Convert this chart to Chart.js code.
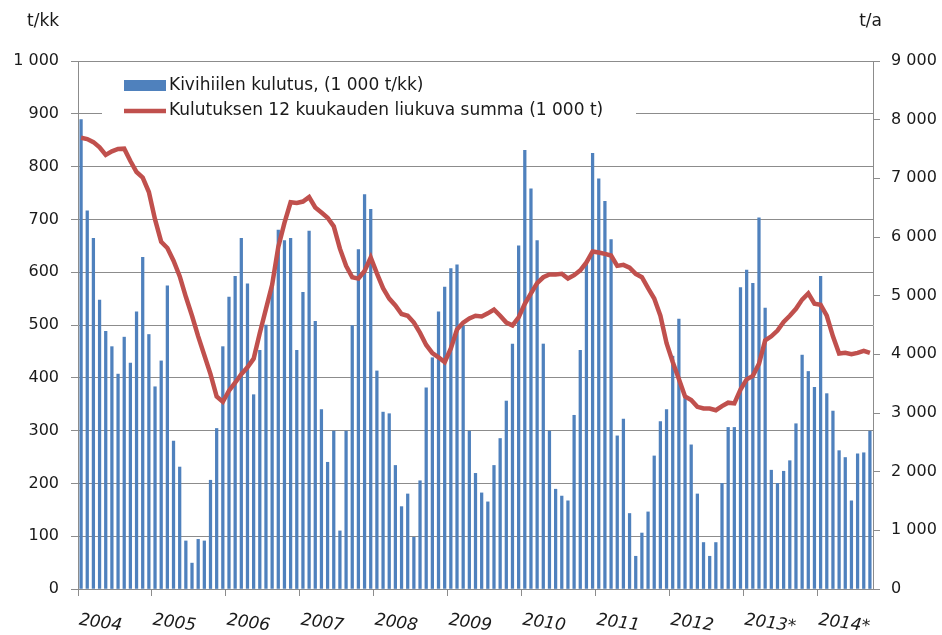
<!DOCTYPE html>
<html>
<head>
<meta charset="utf-8">
<script src="https://cdn.jsdelivr.net/npm/chart.js@4"></script>
<style>
  html, body { margin: 0; padding: 0; background: #fff; }
  #wrap { width: 942px; height: 635px; }
</style>
</head>
<body>
<div id="wrap"><canvas id="coal-chart" width="942" height="635"></canvas></div>
<script>
(function () {
    'use strict';

    /* ── Data: monthly coal consumption Jan 2004 – Sep 2014 ── */
    var yearLabels = ['2004', '2005', '2006', '2007', '2008', '2009', '2010', '2011', '2012', '2013*', '2014*'];

    // Kivihiilen kulutus (1 000 t/kk), one value per month
    var consumption = [
        889, 716, 664, 547, 488, 459, 407, 477, 428, 525, 628, 482,   // 2004
        383, 432, 574, 280, 231, 91, 49, 94, 91, 206, 304, 459,       // 2005
        553, 592, 664, 578, 368, 452, 500, 578, 680, 660, 664, 452,   // 2006
        562, 678, 507, 340, 240, 299, 110, 299, 499, 643, 747, 719,   // 2007
        413, 335, 332, 234, 156, 180, 98, 205, 381, 438, 525, 572,    // 2008
        607, 614, 498, 299, 219, 182, 165, 234, 285, 356, 464, 650,   // 2009
        831, 758, 660, 464, 299, 189, 176, 167, 329, 452, 615, 825,   // 2010
        777, 734, 662, 290, 322, 143, 62, 106, 146, 252, 317, 340,    // 2011
        441, 511, 361, 273, 180, 88, 62, 88, 200, 306, 306, 571,      // 2012
        604, 579, 703, 532, 225, 200, 223, 243, 313, 443, 412, 382,   // 2013*
        592, 370, 337, 262, 249, 167, 256, 258, 299                   // 2014*
    ];

    // Kulutuksen 12 kuukauden liukuva summa (1 000 t)
    var rollingSum = [
        7692, 7670, 7617, 7530, 7400, 7459, 7500, 7506, 7295, 7108, 7014, 6767,
        6300, 5918, 5813, 5596, 5332, 4981, 4658, 4307, 3984, 3662, 3281, 3190,
        3380, 3516, 3662, 3779, 3926, 4365, 4775, 5186, 5830, 6240, 6592, 6580,
        6604, 6680, 6504, 6416, 6328, 6182, 5801, 5508, 5314, 5291, 5420, 5650,
        5380, 5127, 4951, 4834, 4687, 4658, 4541, 4365, 4160, 4020, 3950, 3867,
        4102, 4424, 4541, 4611, 4658, 4646, 4699, 4764, 4658, 4541, 4494, 4629,
        4860, 5040, 5215, 5314, 5361, 5361, 5372, 5291, 5349, 5431, 5566, 5754,
        5736, 5713, 5684, 5508, 5525, 5478, 5372, 5314, 5127, 4951, 4658, 4189,
        3870, 3580, 3281, 3223, 3105, 3076, 3076, 3047, 3117, 3176, 3164, 3398,
        3574, 3633, 3838, 4236, 4307, 4406, 4553, 4658, 4775, 4933, 5039, 4863,
        4845, 4658, 4307, 4013, 4025, 4002, 4025, 4060, 4025
    ];

    var seriesNames = ['Kivihiilen kulutus, (1 000 t/kk)', 'Kulutuksen 12 kuukauden liukuva summa (1 000 t)'];
    var unitLeft = 't/kk';
    var unitRight = 't/a';

    /* ── Styles ── */
    var FONT = '"DejaVu Sans", sans-serif';
    var colours = {
        bar:  '#4F81BD',
        line: '#C0504D',
        grid: '#8C8C8C',
        text: '#1A1A1A'
    };

    function thousands(v) {
        return String(v).replace(/\B(?=(\d{3})+(?!\d))/g, ' ');
    }

    function toPoints(arr) {
        return arr.map(function (v, i) { return { x: i + 0.5, y: v }; });
    }

    /* ── Legend floating inside the plot, over the 900 gridline ── */
    var floatingLegend = {
        id: 'floatingLegend',
        beforeDatasetsDraw: function (chart) {
            var ctx = chart.ctx;
            ctx.save();
            ctx.fillStyle = '#fff';
            ctx.fillRect(102, 70, 534, 50);
            ctx.restore();
        },
        afterDatasetsDraw: function (chart) {
            var ctx = chart.ctx;
            ctx.save();
            ctx.fillStyle = colours.bar;
            ctx.fillRect(124, 80, 42, 11);
            ctx.strokeStyle = colours.line;
            ctx.lineWidth = 4.5;
            ctx.beginPath();
            ctx.moveTo(124, 111);
            ctx.lineTo(166, 111);
            ctx.stroke();
            ctx.fillStyle = colours.text;
            ctx.font = '17px ' + FONT;
            ctx.textBaseline = 'middle';
            ctx.fillText(seriesNames[0], 169, 86);
            ctx.fillText(seriesNames[1], 169, 111);
            ctx.restore();
        }
    };

    /* ── Unit captions and slanted year labels ── */
    var captions = {
        id: 'captions',
        afterDraw: function (chart) {
            var ctx = chart.ctx;
            var xs = chart.scales.x;
            ctx.save();
            ctx.fillStyle = colours.text;
            ctx.font = '17px ' + FONT;
            ctx.textBaseline = 'middle';
            ctx.textAlign = 'left';
            ctx.fillText(unitLeft, 27, 22);
            ctx.textAlign = 'right';
            ctx.fillText(unitRight, 882, 22);

            ctx.font = 'italic 17px ' + FONT;
            ctx.textAlign = 'left';
            yearLabels.forEach(function (lbl, k) {
                var x = xs.getPixelForValue(k * 12);
                ctx.save();
                ctx.translate(x + 1, 620);
                ctx.rotate(0.14);
                ctx.fillText(lbl, 0, 0);
                ctx.restore();
            });
            ctx.restore();
        }
    };

    var canvas = document.getElementById('coal-chart');

    new Chart(canvas, {
        type: 'bar',
        data: {
            datasets: [
                {
                    type: 'line',
                    label: seriesNames[1],
                    data: toPoints(rollingSum),
                    yAxisID: 'y1',
                    borderColor: colours.line,
                    borderWidth: 4.5,
                    pointRadius: 0,
                    tension: 0,
                    order: 1
                },
                {
                    type: 'bar',
                    label: seriesNames[0],
                    data: toPoints(consumption),
                    yAxisID: 'y',
                    backgroundColor: colours.bar,
                    barThickness: 2.6,
                    order: 2
                }
            ]
        },
        options: {
            responsive: false,
            animation: false,
            layout: { padding: { top: 61, left: 0, right: 0, bottom: 0 } },
            plugins: {
                legend: { display: false },
                tooltip: { enabled: false }
            },
            scales: {
                x: {
                    type: 'linear',
                    min: 0,
                    max: consumption.length,
                    offset: false,
                    afterBuildTicks: function (s) {
                        s.ticks = yearLabels.map(function (_, k) { return { value: k * 12 }; });
                    },
                    afterFit: function (s) { s.height = 46; },
                    grid: { offset: false, drawOnChartArea: false, drawTicks: true, tickLength: 7, color: colours.grid },
                    border: { color: colours.grid },
                    ticks: { display: false }
                },
                y: {
                    position: 'left',
                    min: 0,
                    max: 1000,
                    afterFit: function (s) { s.width = 78; },
                    grid: { color: colours.grid, tickLength: 7 },
                    border: { color: colours.grid },
                    ticks: {
                        stepSize: 100,
                        padding: 12,
                        color: colours.text,
                        font: { family: FONT, size: 16 },
                        callback: thousands
                    }
                },
                y1: {
                    position: 'right',
                    min: 0,
                    max: 9000,
                    afterFit: function (s) { s.width = 69; },
                    grid: { drawOnChartArea: false, tickLength: 7, color: colours.grid },
                    border: { color: colours.grid },
                    ticks: {
                        stepSize: 1000,
                        padding: 11,
                        color: colours.text,
                        font: { family: FONT, size: 16 },
                        callback: thousands
                    }
                }
            }
        },
        plugins: [floatingLegend, captions]
    });
})();
</script>
</body>
</html>
